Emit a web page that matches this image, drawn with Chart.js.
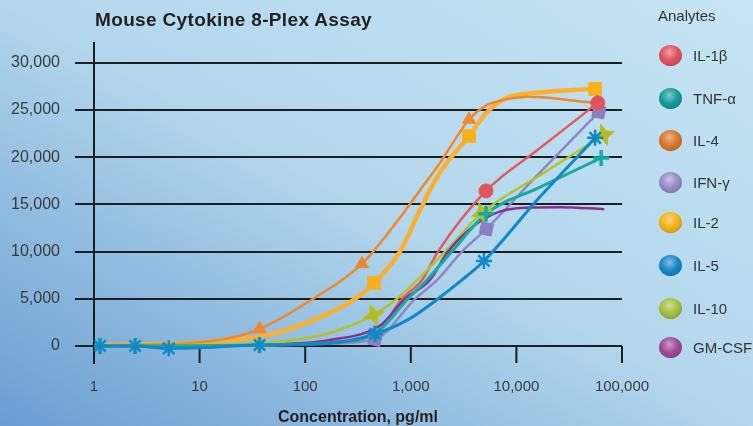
<!DOCTYPE html>
<html>
<head>
<meta charset="utf-8">
<script src="https://cdn.jsdelivr.net/npm/chart.js@4.4.1/dist/chart.umd.min.js"></script>
<style>
  body { margin: 0; }
  #wrap {
    position: relative; width: 753px; height: 426px; overflow: hidden;
    background: linear-gradient(to top right, #6a9ed2 0%, #b2d6ec 50%, #c6e5f4 100%);
    font-family: "Liberation Sans", Arial, sans-serif;
  }
  #chart { position: absolute; left: 0; top: 0; }
  #title {
    position: absolute; left: 95px; top: 9px; white-space: nowrap;
    font-size: 19px; font-weight: bold; color: #231f20; letter-spacing: 0.35px;
  }
  #legend { position: absolute; left: 0; top: 0; }
  .lg-head { position: absolute; left: 658px; top: 7px; font-size: 15px; color: #333; white-space: nowrap; }
  .lg-item { position: absolute; left: 659px; height: 22px; display: flex; align-items: center; white-space: nowrap; }
  .lg-ball { width: 23px; height: 21px; border-radius: 50%; margin-right: 11px; flex: none; }
  .lg-text { font-size: 15px; color: #333; }
</style>
</head>
<body>
<div id="wrap">
  <canvas id="chart" width="753" height="426"></canvas>
  <div id="title">Mouse Cytokine 8-Plex Assay</div>
  <div id="legend"></div>
</div>
<script>
// axis ticks
const xTicks = [1, 10, 100, 1000, 10000, 100000];
const yTicks = [0, 5000, 10000, 15000, 20000, 25000, 30000];

const analytes = ["IL-1β", "TNF-α", "IL-4", "IFN-γ", "IL-2", "IL-5", "IL-10", "GM-CSF"];

// fitted curves (concentration pg/ml, signal)
const il1bConc = [1.14, 5.1, 37, 171, 458, 826, 1277, 1810, 5150, 16400, 59000];
const il1bFit  = [0, 0, 100, 450, 1300, 5000, 7000, 10000, 16430, 20900, 25760];
const tnfConc  = [1.14, 5.1, 37, 171, 458, 940, 1420, 2450, 5150, 16400, 63500];
const tnfFit   = [0, 0, 100, 350, 1300, 5000, 7000, 10000, 14000, 16780, 19930];
const il4Conc  = [1.14, 5.1, 10.1, 19.4, 37, 119, 345, 790, 1222, 1890, 3560, 5200, 7800, 13300, 30000, 58000];
const il4Fit   = [100, 200, 400, 850, 1800, 5000, 8700, 13600, 16500, 19400, 24000, 25500, 26100, 26400, 26100, 25700];
const ifngConc = [1.14, 5.1, 37, 171, 458, 1097, 1780, 3050, 5200, 16400, 60500];
const ifngFit  = [0, 0, 50, 250, 700, 5000, 7000, 10000, 12400, 18280, 24800];
const il2Conc  = [1.14, 5.1, 10.1, 19.4, 37, 106, 297, 449, 790, 1222, 1890, 3560, 5200, 8150, 14400, 55500];
const il2Fit   = [100, 200, 350, 640, 950, 2500, 5000, 6680, 10000, 14400, 18400, 22260, 24700, 26300, 26800, 27240];
const il5Conc  = [1.14, 2.45, 5.1, 37, 171, 458, 980, 1810, 3050, 4930, 16400, 55700];
const il5Fit   = [0, 0, -250, 100, 300, 1270, 2900, 5000, 7000, 9010, 15700, 22050];
const il10Conc = [1.14, 5.1, 37, 171, 445, 740, 1150, 2110, 4720, 16400, 67500];
const il10Fit  = [50, 100, 300, 1380, 3290, 5000, 7000, 10000, 14100, 18030, 22370];
const gmConc   = [1.14, 5.1, 37, 171, 520, 881, 1520, 2250, 4800, 10100, 26000, 68000];
const gmFit    = [0, 0, 100, 640, 2230, 5000, 7000, 10000, 13400, 14600, 14700, 14500];

// measured standards that show as markers
const il1bStdConc = [5150, 59000];
const il1bStd     = [16430, 25760];
const tnfStdConc  = [1.14, 2.45, 37, 458, 5150, 63500];
const tnfStd      = [0, 0, 100, 1300, 14000, 19930];
const il4StdConc  = [37, 345, 3560];
const il4Std      = [1800, 8700, 24000];
const ifngStdConc = [458, 5200, 60500];
const ifngStd     = [700, 12400, 24800];
const il2StdConc  = [449, 3560, 55500];
const il2Std      = [6680, 22260, 27240];
const il5StdConc  = [1.14, 2.45, 5.1, 37, 458, 4930, 55700];
const il5Std      = [0, 0, -250, 100, 1270, 9010, 22050];
const il10StdConc = [445, 4720, 67500];
const il10Std     = [3290, 14100, 22370];

const axisColor = "#1e1e1e";
const ballColors = ["#e0545e", "#179c9c", "#d9782a", "#9a8cc8", "#f5b21a", "#1a88c8", "#a8c040", "#a04a98"];

function pts(xs, ys) {
  return xs.map((x, i) => ({ x: x, y: ys[i] }));
}

function starImage(color) {
  const c = document.createElement("canvas");
  c.width = c.height = 26;
  const g = c.getContext("2d");
  g.translate(13, 13);
  g.rotate(-0.3);
  g.beginPath();
  for (let i = 0; i < 8; i++) {
    const r = i % 2 === 0 ? 12 : 5;
    const a = i * Math.PI / 4;
    g.lineTo(r * Math.cos(a), r * Math.sin(a));
  }
  g.closePath();
  g.fillStyle = color;
  g.fill();
  return c;
}

function curve(data, color, width, order) {
  return {
    data: data, showLine: true, borderColor: color, borderWidth: width,
    pointRadius: 0, cubicInterpolationMode: "monotone", order: order
  };
}

function markers(data, style, color, radius, extra) {
  return Object.assign({
    data: data, showLine: false, pointStyle: style, pointRadius: radius,
    pointBackgroundColor: color, pointBorderColor: color, pointBorderWidth: 1, order: 0
  }, extra || {});
}

const datasets = [
  markers(pts(il5StdConc, il5Std), "star", "#1189c9", 8, { pointBorderWidth: 2.5 }),
  markers(pts(tnfStdConc, tnfStd), "cross", "#17a9a3", 8, { pointBorderWidth: 3.5 }),
  markers(pts(il1bStdConc, il1bStd), "circle", "#e0545e", 7),
  markers(pts(il2StdConc, il2Std), "rect", "#f8b01d", 9),
  markers(pts(ifngStdConc, ifngStd), "rect", "#8a80c0", 8.5, { pointRotation: 12 }),
  markers(pts(il10StdConc, il10Std), starImage("#b5bd1f"), "#b5bd1f", 10),
  markers(pts(il4StdConc, il4Std), "triangle", "#f0892c", 7.5),
  curve(pts(il5Conc, il5Fit), "#1189c9", 3, 1),
  curve(pts(tnfConc, tnfFit), "#17a9a3", 3, 2),
  curve(pts(gmConc, gmFit), "#8e2d8f", 2.5, 3),
  curve(pts(il10Conc, il10Fit), "#b4c22a", 2.5, 4),
  curve(pts(ifngConc, ifngFit), "#8f87c4", 2.5, 5),
  curve(pts(il1bConc, il1bFit), "#e25a61", 2.5, 6),
  curve(pts(il4Conc, il4Fit), "#f0892c", 2.5, 7),
  curve(pts(il2Conc, il2Fit), "#fbb12e", 4.5, 8)
];

// short tick marks under the zero line, and the axis stub below it
const tickStubs = {
  id: "tickStubs",
  beforeDatasetsDraw(chart) {
    const { ctx, chartArea, scales } = chart;
    const y0 = scales.y.getPixelForValue(0);
    ctx.save();
    ctx.strokeStyle = axisColor;
    ctx.lineWidth = 2;
    xTicks.forEach(v => {
      const px = scales.x.getPixelForValue(v);
      ctx.beginPath();
      ctx.moveTo(px, y0);
      ctx.lineTo(px, chartArea.bottom);
      ctx.stroke();
    });
    ctx.restore();
  }
};

const fmt = v => Number(v).toLocaleString("en-US");

new Chart(document.getElementById("chart"), {
  type: "scatter",
  data: { datasets: datasets },
  plugins: [tickStubs],
  options: {
    responsive: false,
    animation: false,
    layout: { padding: { top: 43, right: 131, left: 0, bottom: 0 } },
    plugins: { legend: { display: false }, tooltip: { enabled: false } },
    scales: {
      x: {
        type: "logarithmic", min: 1, max: 100000,
        afterBuildTicks: s => { s.ticks = xTicks.map(v => ({ value: v })); },
        afterFit: s => { s.height = 63; },
        grid: { display: false, drawTicks: false },
        border: { display: false },
        ticks: {
          autoSkip: false, maxRotation: 0, padding: 15, color: "#3a3a3a",
          font: { family: "Liberation Sans", size: 15 },
          callback: v => fmt(v)
        },
        title: {
          display: true, text: "Concentration, pg/ml", color: "#231f20",
          font: { family: "Liberation Sans", size: 16, weight: "bold", lineHeight: 1 },
          padding: { top: 0, bottom: 0 }
        }
      },
      y: {
        min: -1800, max: 32100,
        afterBuildTicks: s => { s.ticks = yTicks.map(v => ({ value: v })); },
        afterFit: s => { s.width = 94; },
        grid: { color: axisColor, lineWidth: 2, tickLength: 19, drawTicks: true },
        border: { display: true, color: axisColor, width: 2 },
        ticks: {
          padding: 15, color: "#3a3a3a",
          font: { family: "Liberation Sans", size: 16 },
          callback: v => fmt(v)
        }
      }
    }
  }
});

// legend with shaded balls
const legendYs = [55, 98, 140, 182, 222, 265, 308, 347];
const legend = document.getElementById("legend");
legend.innerHTML = '<div class="lg-head">Analytes</div>' + analytes.map((name, i) =>
  '<div class="lg-item" style="top:' + (legendYs[i] - 11) + 'px">' +
  '<div class="lg-ball" style="background: radial-gradient(circle at 45% 35%, rgba(255,255,255,0.45) 0%, ' +
  ballColors[i] + ' 45%, rgba(0,0,0,0.25) 100%), ' + ballColors[i] + '"></div>' +
  '<span class="lg-text">' + name + '</span></div>').join("");
</script>
</body>
</html>
